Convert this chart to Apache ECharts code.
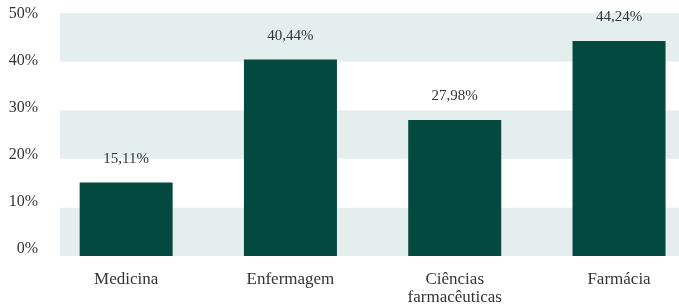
<!DOCTYPE html>
<html>
<head>
<meta charset="utf-8">
<script src="https://cdn.jsdelivr.net/npm/echarts@6/dist/echarts.min.js"></script>
<style>
  html, body { margin: 0; padding: 0; background: #fff; }
  #chart { width: 679px; height: 308px; }
</style>
</head>
<body>
<div id="chart"></div>
<script>
const categories = ["Medicina", "Enfermagem", "Ciências\nfarmacêuticas", "Farmácia"];
const shares = [15.11, 40.44, 27.98, 44.24];
const yTicks = [0, 10, 20, 30, 40, 50];

const FONT = "Liberation Serif";
const TEXT = "#333333";
const BAR = "#03493f";
const BAND = "#e5eeef";

const chart = echarts.init(document.getElementById("chart"), null, { renderer: "canvas" });

const fmt = (v) => v.toFixed(2).replace(".", ",") + "%";
const positions = categories.map((_, i) => i);

chart.setOption({
  animation: false,
  textStyle: { fontFamily: FONT },
  grid: [
    // band background
    { left: 60, right: 0, top: 13, bottom: 52 },
    // bars (categories spaced slightly wider than the band area)
    { left: 44, right: 0, top: 13, bottom: 52 },
    // tick labels
    { left: 60, right: 0, top: 14, bottom: 59 },
  ],
  xAxis: [
    { gridIndex: 0, type: "category", data: categories, show: false },
    {
      gridIndex: 1,
      type: "value",
      min: -0.5,
      max: 3.365,
      splitLine: { show: false },
      axisLine: { show: false },
      axisTick: { show: false },
      axisLabel: {
        customValues: positions,
        color: TEXT, fontSize: 17, fontFamily: FONT, margin: 15, lineHeight: 18,
        formatter: (v) => categories[Math.round(v)] || "",
      },
    },
    { gridIndex: 2, type: "category", data: categories, show: false },
  ],
  yAxis: [
    {
      gridIndex: 0, type: "value", min: 0, max: 50, interval: 10,
      axisLine: { show: false }, axisTick: { show: false }, axisLabel: { show: false },
      splitLine: { show: false },
      splitArea: { show: true, areaStyle: { color: [BAND, "#ffffff"] } },
    },
    {
      gridIndex: 1, type: "value", min: 0, max: 50, interval: 10,
      show: false, splitLine: { show: false },
    },
    {
      gridIndex: 2, type: "value", min: yTicks[0], max: yTicks[yTicks.length - 1], interval: 10,
      axisLine: { show: false }, axisTick: { show: false }, splitLine: { show: false },
      axisLabel: { color: TEXT, fontSize: 16, fontFamily: FONT, margin: 22, formatter: "{value}%" },
    },
  ],
  series: [
    {
      type: "bar",
      xAxisIndex: 1,
      yAxisIndex: 1,
      data: shares.map((v, i) => [positions[i], v]),
      barWidth: 93,
      itemStyle: { color: BAR },
      label: {
        show: true,
        position: "top",
        distance: 16,
        color: TEXT,
        fontSize: 15,
        fontFamily: FONT,
        formatter: (p) => fmt(p.value[1]),
      },
    },
  ],
});
</script>
</body>
</html>
